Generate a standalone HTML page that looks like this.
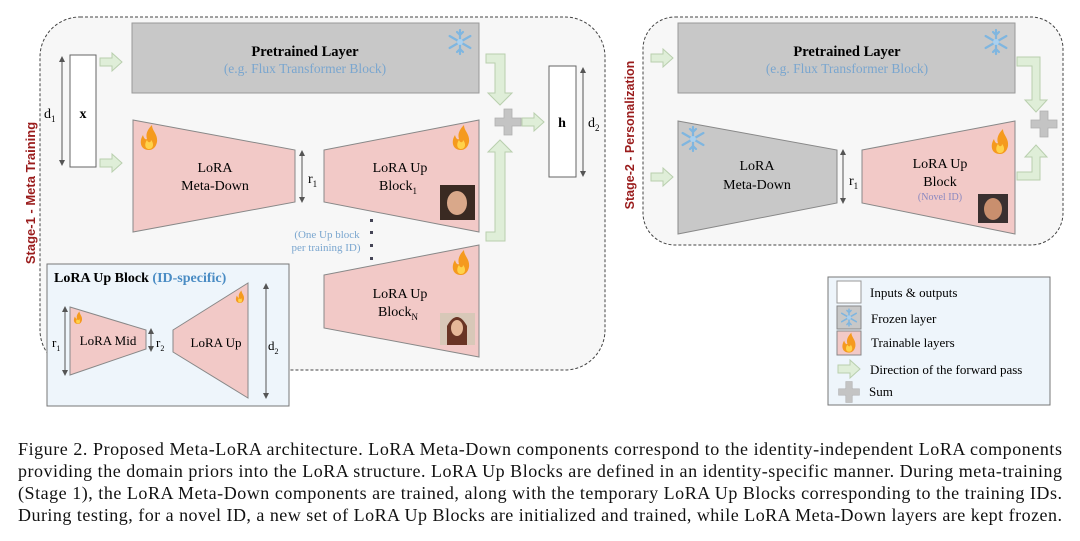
<!DOCTYPE html>
<html><head><meta charset="utf-8"><style>
html,body{margin:0;padding:0;background:#fff;}
svg{display:block;}
text{font-family:"Liberation Serif",serif;}
</style></head><body>
<svg width="1080" height="541" viewBox="0 0 1080 541" xmlns="http://www.w3.org/2000/svg">
<defs>
<marker id="ah" viewBox="0 0 10 10" refX="5" refY="5" markerWidth="6" markerHeight="6" orient="auto-start-reverse"><path d="M0,0 L10,5 L0,10 z" fill="#555"/></marker>
<g id="garrow"><path d="M0,-4 H12 V-9 L22,0 L12,9 V4 H0 z" fill="#dfeed8" stroke="#b9cfae" stroke-width="1"/></g>
<g id="plus"><path d="M-4,-13 H4 V-4 H13 V4 H4 V13 H-4 V4 H-13 V-4 H-4 z" fill="#c4c4c4" stroke="#b0b0b0" stroke-width="0.8"/></g>
<g id="snow" stroke="#7fb6e0" stroke-width="2.2" stroke-linecap="round" fill="none"><path d="M0,-12 V12 M-10.4,-6 L10.4,6 M-10.4,6 L10.4,-6 M-3,-10 L0,-7 L3,-10 M-3,10 L0,7 L3,10"/><circle r="3" fill="#a9d0ef" stroke="none"/></g>
<g id="fire"><path d="M0,12 C-9,12 -10,3 -6,-3 C-5,1 -3,2 -2,1 C-4,-5 0,-10 3,-13 C3,-7 9,-4 8,4 C7,9 4,12 0,12 z" fill="#f59a1e"/><path d="M0,11 C-4,11 -5,6 -2,2 C-1,5 2,5 2,2 C5,5 5,11 0,11 z" fill="#ffd24a"/></g>
</defs>

<rect x="40" y="17" width="565" height="353" rx="40" fill="#f7f7f7" stroke="#444" stroke-dasharray="3,2"/>
<text transform="translate(35,193) rotate(-90)" text-anchor="middle" font-weight="bold" font-size="13" fill="#9a1c1c" style="font-family:'Liberation Sans',sans-serif">Stage-1 -  Meta Training</text>

<rect x="132" y="23" width="347" height="70" fill="#c8c8c8" stroke="#999"/>
<text x="305" y="56" text-anchor="middle" font-weight="bold" font-size="14.5">Pretrained Layer</text>
<text x="305" y="73" text-anchor="middle" font-size="13.5" fill="#7aa6cf">(e.g. Flux Transformer Block)</text>
<use href="#snow" transform="translate(460,42)"/>

<rect x="70" y="55" width="26" height="112" fill="#fff" stroke="#666"/>
<text x="83" y="118" text-anchor="middle" font-weight="bold" font-size="14">x</text>
<line x1="62" y1="59" x2="62" y2="163" stroke="#555" marker-start="url(#ah)" marker-end="url(#ah)"/>
<text x="44" y="118" font-size="14">d<tspan font-size="9" dy="4">1</tspan></text>
<use href="#garrow" transform="translate(100,62)"/>
<use href="#garrow" transform="translate(100,163)"/>

<polygon points="133,120 295,150 295,202 133,232" fill="#f2c9c7" stroke="#888"/>
<text x="215" y="172" text-anchor="middle" font-size="14">LoRA</text>
<text x="215" y="190" text-anchor="middle" font-size="14">Meta-Down</text>
<use href="#fire" transform="translate(149,138)"/>
<line x1="302" y1="153" x2="302" y2="200" stroke="#555" marker-start="url(#ah)" marker-end="url(#ah)"/>
<text x="308" y="183" font-size="14">r<tspan font-size="9" dy="4">1</tspan></text>

<polygon points="324,150 479,120 479,232 324,202" fill="#f2c9c7" stroke="#888"/>
<text x="400" y="172" text-anchor="middle" font-size="14">LoRA Up</text>
<text x="398" y="190" text-anchor="middle" font-size="14">Block<tspan font-size="9" dy="4">1</tspan></text>
<use href="#fire" transform="translate(461,138)"/>
<rect x="440" y="185" width="35" height="35" fill="#3a2a22"/><ellipse cx="457" cy="203" rx="10" ry="12" fill="#d9a88a"/>

<g fill="#445"><rect x="370" y="219" width="3" height="3"/><rect x="370" y="231" width="3" height="3"/><rect x="370" y="244" width="3" height="3"/><rect x="370" y="257" width="3" height="3"/></g>
<text x="327" y="238" text-anchor="middle" font-size="11" fill="#7aa6cf">(One Up block</text>
<text x="326" y="251" text-anchor="middle" font-size="11" fill="#7aa6cf">per training ID)</text>

<polygon points="324,275 479,245 479,357 324,328" fill="#f2c9c7" stroke="#888"/>
<text x="400" y="298" text-anchor="middle" font-size="14">LoRA Up</text>
<text x="398" y="316" text-anchor="middle" font-size="14">Block<tspan font-size="9" dy="4">N</tspan></text>
<use href="#fire" transform="translate(461,263)"/>
<rect x="440" y="313" width="35" height="32" fill="#d8c8b8"/><path d="M447,345 L447,326 Q457,308 467,326 L467,345z" fill="#6a3525"/><ellipse cx="457" cy="328" rx="6" ry="8" fill="#e6b898"/>

<path d="M486,54 H505 V93 H512 L500,105 L488,93 H495 V63 H486 z" fill="#dfeed8" stroke="#b9cfae"/>
<path d="M486,241 H505 V152 H512 L500,140 L488,152 H495 V232 H486 z" fill="#dfeed8" stroke="#b9cfae"/>
<use href="#plus" transform="translate(508,122)"/>
<use href="#garrow" transform="translate(522,122)"/>

<rect x="549" y="66" width="27" height="111" fill="#fff" stroke="#666"/>
<text x="562" y="127" text-anchor="middle" font-weight="bold" font-size="14">h</text>
<line x1="583" y1="70" x2="583" y2="174" stroke="#555" marker-start="url(#ah)" marker-end="url(#ah)"/>
<text x="588" y="127" font-size="14">d<tspan font-size="9" dy="4">2</tspan></text>

<rect x="47" y="264" width="242" height="142" fill="#eef5fb" stroke="#777"/>
<text x="54" y="282" font-weight="bold" font-size="14">LoRA Up Block <tspan fill="#4a8cc4">(ID-specific)</tspan></text>
<polygon points="70,307 146,330 146,349 70,375" fill="#f2c9c7" stroke="#888"/>
<text x="108" y="345" text-anchor="middle" font-size="13">LoRA Mid</text>
<use href="#fire" transform="translate(78,318) scale(0.5)"/>
<line x1="65" y1="309" x2="65" y2="373" stroke="#555" marker-start="url(#ah)" marker-end="url(#ah)"/>
<text x="52" y="347" font-size="13">r<tspan font-size="8" dy="4">1</tspan></text>
<line x1="151" y1="331" x2="151" y2="349" stroke="#555" marker-start="url(#ah)" marker-end="url(#ah)"/>
<text x="156" y="347" font-size="13">r<tspan font-size="8" dy="4">2</tspan></text>
<polygon points="173,330 248,283 248,398 173,352" fill="#f2c9c7" stroke="#888"/>
<text x="216" y="347" text-anchor="middle" font-size="13">LoRA Up</text>
<use href="#fire" transform="translate(240,297) scale(0.5)"/>
<line x1="266" y1="286" x2="266" y2="396" stroke="#555" marker-start="url(#ah)" marker-end="url(#ah)"/>
<text x="268" y="350" font-size="13">d<tspan font-size="8" dy="4">2</tspan></text>

<rect x="643" y="17" width="420" height="228" rx="32" fill="#f7f7f7" stroke="#444" stroke-dasharray="3,2"/>
<text transform="translate(634,135) rotate(-90)" text-anchor="middle" font-weight="bold" font-size="12.5" fill="#9a1c1c" style="font-family:'Liberation Sans',sans-serif">Stage-2 - Personalization</text>
<use href="#garrow" transform="translate(651,58)"/>
<use href="#garrow" transform="translate(651,177)"/>
<rect x="678" y="23" width="337" height="70" fill="#c8c8c8" stroke="#999"/>
<text x="847" y="56" text-anchor="middle" font-weight="bold" font-size="14.5">Pretrained Layer</text>
<text x="847" y="73" text-anchor="middle" font-size="13.5" fill="#7aa6cf">(e.g. Flux Transformer Block)</text>
<use href="#snow" transform="translate(996,42)"/>
<polygon points="678,121 837,150 837,203 678,234" fill="#c8c8c8" stroke="#888"/>
<text x="757" y="170" text-anchor="middle" font-size="14">LoRA</text>
<text x="757" y="189" text-anchor="middle" font-size="14">Meta-Down</text>
<use href="#snow" transform="translate(693,139)"/>
<line x1="843" y1="152" x2="843" y2="201" stroke="#555" marker-start="url(#ah)" marker-end="url(#ah)"/>
<text x="849" y="185" font-size="14">r<tspan font-size="9" dy="4">1</tspan></text>
<polygon points="862,150 1015,121 1015,234 862,203" fill="#f2c9c7" stroke="#888"/>
<text x="940" y="168" text-anchor="middle" font-size="14">LoRA Up</text>
<text x="940" y="186" text-anchor="middle" font-size="14">Block</text>
<text x="940" y="200" text-anchor="middle" font-size="10" fill="#8a88c0">(Novel ID)</text>
<use href="#fire" transform="translate(1000,142)"/>
<rect x="978" y="194" width="30" height="29" fill="#3a3030"/><ellipse cx="993" cy="209" rx="9" ry="11" fill="#c98f6e"/>
<path d="M1017,57 H1040 V100 H1047 L1036,112 L1025,100 H1032 V66 H1017 z" fill="#dfeed8" stroke="#b9cfae"/>
<path d="M1017,180 H1040 V157 H1047 L1036,145 L1025,157 H1032 V172 H1017 z" fill="#dfeed8" stroke="#b9cfae"/>
<use href="#plus" transform="translate(1044,124)"/>

<rect x="828" y="277" width="222" height="128" fill="#eef5fb" stroke="#777"/>
<rect x="837" y="281" width="24" height="22" fill="#fff" stroke="#999"/>
<text x="870" y="297" font-size="13">Inputs &amp; outputs</text>
<rect x="837" y="306" width="24" height="23" fill="#c8c8c8" stroke="#888"/>
<use href="#snow" transform="translate(849,317.5) scale(0.7)"/>
<text x="871" y="323" font-size="13">Frozen layer</text>
<rect x="837" y="331" width="24" height="24" fill="#f2c9c7" stroke="#888"/>
<use href="#fire" transform="translate(849,343) scale(0.8)"/>
<text x="871" y="347" font-size="13">Trainable layers</text>
<use href="#garrow" transform="translate(838,369)"/>
<text x="870" y="374" font-size="13">Direction of the forward pass</text>
<use href="#plus" transform="translate(849,392) scale(0.8)"/>
<text x="869" y="396" font-size="13">Sum</text>

<g font-size="18" fill="#111">
<text x="18" y="455" textLength="1044" lengthAdjust="spacing">Figure 2. Proposed Meta-LoRA architecture. LoRA Meta-Down components correspond to the identity-independent LoRA components</text>
<text x="18" y="477" textLength="1044" lengthAdjust="spacing">providing the domain priors into the LoRA structure. LoRA Up Blocks are defined in an identity-specific manner. During meta-training</text>
<text x="18" y="499" textLength="1044" lengthAdjust="spacing">(Stage 1), the LoRA Meta-Down components are trained, along with the temporary LoRA Up Blocks corresponding to the training IDs.</text>
<text x="18" y="521" textLength="1044" lengthAdjust="spacing">During testing, for a novel ID, a new set of LoRA Up Blocks are initialized and trained, while LoRA Meta-Down layers are kept frozen.</text>
</g>
</svg>
</body></html>
